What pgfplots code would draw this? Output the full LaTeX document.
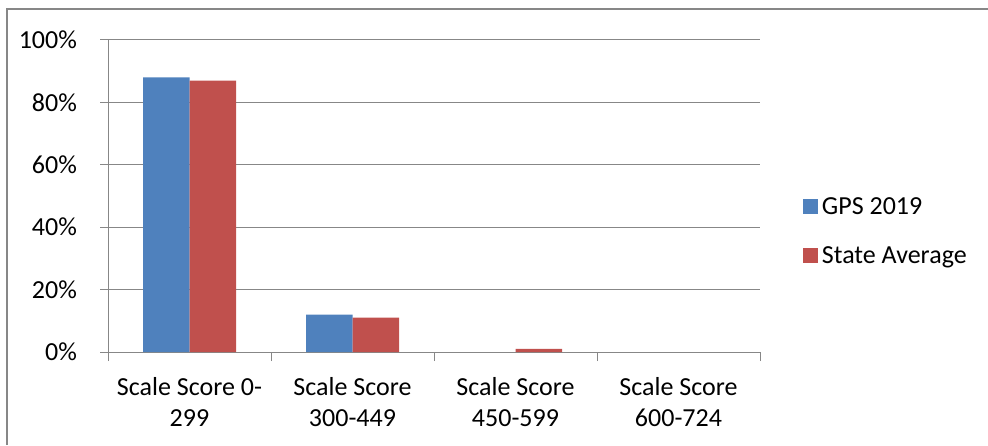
\documentclass[border=0pt]{standalone}
\usepackage{pgfplots}
\pgfplotsset{compat=1.18}
\usepackage{fontspec}
\setmainfont{Carlito}
\definecolor{gpsblue}{HTML}{4F81BD}
\definecolor{statered}{HTML}{C0504D}
\definecolor{gridgray}{HTML}{878787}
\begin{document}
\begin{tikzpicture}
\useasboundingbox (0,0) rectangle (494pt,222.5pt);
\draw[gridgray,line width=1pt] (3.5pt,0) -- (3.5pt,217.75pt) -- (494pt,217.75pt);
\begin{axis}[
  at={(54pt,46.5pt)}, anchor=south west,
  scale only axis, width=326pt, height=156pt,
  font=\fontsize{13}{15.9}\selectfont,
  ybar=0pt, bar width=23.25pt,
  xmin=-0.5, xmax=3.5, ymin=0, ymax=100,
  axis lines*=left, axis line style={gridgray,-},
  xtick={0,1,2,3},
  xticklabels={{Scale Score 0-\\299},{Scale Score\\300-449},{Scale Score\\450-599},{Scale Score\\600-724}},
  xticklabel style={align=center, yshift=-5pt},
  major x tick style={draw=none},
  minor xtick={-0.5,0.5,1.5,2.5,3.5},
  minor x tick style={gridgray},
  ytick={0,20,40,60,80,100},
  yticklabels={0\%,20\%,40\%,60\%,80\%,100\%},
  yticklabel style={xshift=-8pt},
  ymajorgrids, grid style={gridgray, line width=0.5pt},
  tick style={gridgray, line width=0.5pt},
  tick align=outside, major tick length=4pt, minor tick length=4.5pt,
  legend style={at={(1.056,0.385)}, anchor=west, draw=none, fill=none,
    row sep=10.5pt, font=\fontsize{13}{15.9}\selectfont},
  legend cell align=left,
  legend image code/.code={\fill[#1] (0pt,-3.5pt) rectangle (7.5pt,4pt);},
]
\addplot[fill=gpsblue, draw=none] coordinates {(0,88) (1,12)};
\addplot[fill=statered, draw=none] coordinates {(0,87) (1,11) (2,1)};
\legend{GPS 2019, State Average}
\end{axis}
\end{tikzpicture}
\end{document}
